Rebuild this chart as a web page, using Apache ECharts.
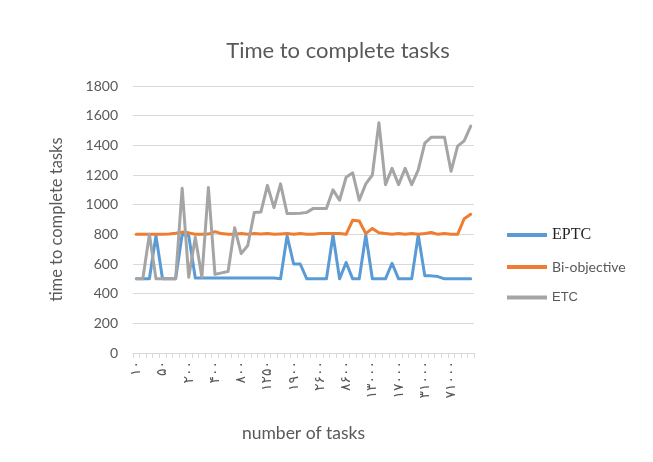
<!DOCTYPE html>
<html>
<head>
<meta charset="utf-8">
<script src="https://cdn.jsdelivr.net/npm/echarts@6/dist/echarts.min.js"></script>
<style>
  html, body { margin: 0; padding: 0; background: #ffffff; }
  #chart { width: 653px; height: 462px; }
</style>
</head>
<body>
<div id="chart"></div>
<script>
// Tick labels shown on the category axis (every fourth task count)
var tickLabels = ['۱۰', '۵۰', '۲۰۰', '۴۰۰', '۸۰۰', '۱۲۵۰', '۱۹۰۰', '۲۶۰۰', '۸۶۰۰', '۱۳۰۰۰', '۱۷۰۰۰', '۳۱۰۰۰', '۷۱۰۰۰'];
var labelStep = 4;
var categoryCount = 52;

// Time to complete tasks for each method
var eptc = [500, 500, 500, 790, 500, 500, 500, 800, 790, 505,
            505, 505, 505, 505, 505, 505, 505, 505, 505, 505,
            505, 505, 500, 790, 600, 600, 500, 500, 500, 500,
            795, 500, 610, 500, 500, 795, 500, 500, 500, 605,
            500, 500, 500, 795, 520, 520, 515, 500, 500, 500,
            500, 500];
var biObjective = [800, 800, 800, 800, 800, 803, 808, 815, 810, 800,
                   800, 802, 818, 805, 800, 800, 805, 800, 805, 802,
                   805, 800, 803, 805, 800, 805, 800, 800, 805, 805,
                   805, 805, 800, 895, 890, 805, 840, 810, 805, 800,
                   805, 800, 805, 800, 805, 812, 800, 805, 800, 800,
                   905, 935];
var etc = [500, 500, 800, 500, 500, 500, 500, 1110, 510, 780,
           510, 1115, 530, 540, 550, 845, 670, 725, 948, 950,
           1130, 980, 1140, 940, 940, 942, 948, 975, 975, 975,
           1100, 1030, 1185, 1215, 1030, 1140, 1200, 1553, 1135, 1245,
           1135, 1245, 1135, 1235, 1415, 1455, 1455, 1455, 1225, 1395,
           1430, 1530];

var categories = [];
for (var i = 0; i < categoryCount; i++) {
  categories.push(i % labelStep === 0 ? tickLabels[i / labelStep] : '');
}

var textColor = '#595959';
var font = 'Lato, "Open Sans", "Liberation Sans", sans-serif';

var chart = echarts.init(document.getElementById('chart'), null, { renderer: 'canvas' });

function lineSeries(name, data, color) {
  return {
    name: name,
    type: 'line',
    data: data,
    symbol: 'none',
    showSymbol: false,
    animation: false,
    lineStyle: { color: color, width: 3, join: 'round', cap: 'round' },
    itemStyle: { color: color }
  };
}

chart.setOption({
  backgroundColor: '#ffffff',
  animation: false,
  title: {
    text: 'Time to complete tasks',
    left: 333,
    textAlign: 'center',
    top: 35,
    textStyle: { color: textColor, fontFamily: font, fontSize: 22, fontWeight: 'normal' }
  },
  grid: { left: 133, right: 179, top: 86, bottom: 109 },
  legend: {
    orient: 'vertical',
    left: 502,
    top: 222,
    icon: 'rect',
    itemWidth: 40,
    itemHeight: 4,
    itemGap: 17,
    data: ['EPTC', 'Bi-objective', 'ETC'],
    formatter: function (name) {
      if (name === 'EPTC') return '{e|' + name + '}';
      if (name === 'ETC') return '{c|' + name + '}';
      return '{b|' + name + '}';
    },
    textStyle: {
      rich: {
        e: { fontFamily: '"Liberation Serif", serif', fontSize: 16, color: '#222222' },
        b: { fontFamily: font, fontSize: 14, color: textColor },
        c: { fontFamily: '"Liberation Sans Narrow", "Liberation Sans", sans-serif', fontSize: 13, color: textColor }
      }
    }
  },
  xAxis: {
    type: 'category',
    data: categories,
    boundaryGap: true,
    name: 'number of tasks',
    nameLocation: 'middle',
    nameGap: 71,
    nameTextStyle: { color: textColor, fontFamily: font, fontSize: 17.5 },
    axisLine: { lineStyle: { color: '#D9D9D9', width: 1 } },
    axisTick: { show: true, interval: 0, length: 5, lineStyle: { color: '#D9D9D9' } },
    axisLabel: {
      interval: 0,
      rotate: 90,
      margin: 8,
      color: textColor,
      fontFamily: '"Noto Sans", "DejaVu Sans", sans-serif',
      fontSize: 14
    },
    splitLine: { show: false }
  },
  yAxis: {
    type: 'value',
    min: 0,
    max: 1800,
    interval: 200,
    name: 'time to complete tasks',
    nameLocation: 'middle',
    nameGap: 68,
    nameTextStyle: { color: textColor, fontFamily: font, fontSize: 16.5 },
    axisLine: { show: false },
    axisTick: { show: false },
    axisLabel: {
      color: textColor, fontFamily: font, fontSize: 14, margin: 15,
      formatter: function (v) { return String(v); }
    },
    splitLine: { lineStyle: { color: '#D9D9D9', width: 1 } }
  },
  series: [
    lineSeries('EPTC', eptc, '#5B9BD5'),
    lineSeries('Bi-objective', biObjective, '#ED7D31'),
    lineSeries('ETC', etc, '#A5A5A5')
  ]
});
</script>
</body>
</html>
